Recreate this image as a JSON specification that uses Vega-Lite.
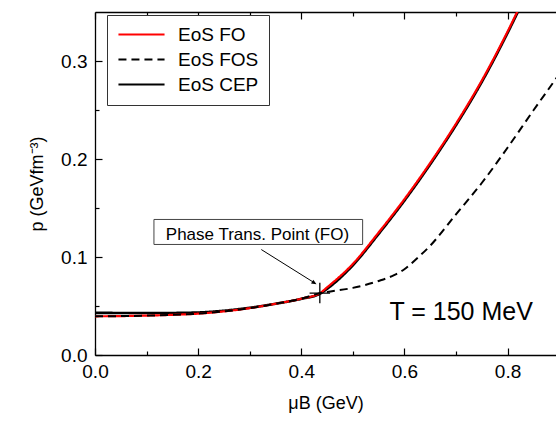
{
  "$schema": "https://vega.github.io/schema/vega-lite/v6.json",
  "width": 461,
  "height": 343,
  "autosize": {"type": "none"},
  "padding": {"left": 95, "top": 12, "right": 0, "bottom": 67},
  "background": "white",
  "config": {
    "view": {"stroke": null},
    "font": "Liberation Sans",
    "axis": {
      "grid": false,
      "domainColor": "black",
      "tickColor": "black",
      "labelColor": "black",
      "titleColor": "black",
      "labelFont": "Liberation Sans",
      "titleFont": "Liberation Sans",
      "titleFontWeight": "normal",
      "domainWidth": 1.3,
      "tickWidth": 1.2
    }
  },
  "datasets": {
    "curves": [
      {"series": "EoS CEP", "mu": 0.0, "p": 0.0430},
      {"series": "EoS CEP", "mu": 0.05, "p": 0.0429},
      {"series": "EoS CEP", "mu": 0.1, "p": 0.0428},
      {"series": "EoS CEP", "mu": 0.15, "p": 0.0429},
      {"series": "EoS CEP", "mu": 0.2, "p": 0.0434},
      {"series": "EoS CEP", "mu": 0.25, "p": 0.0452},
      {"series": "EoS CEP", "mu": 0.3, "p": 0.0482},
      {"series": "EoS CEP", "mu": 0.35, "p": 0.0523},
      {"series": "EoS CEP", "mu": 0.4, "p": 0.0573},
      {"series": "EoS CEP", "mu": 0.436, "p": 0.0625},
      {"series": "EoS CEP", "mu": 0.45, "p": 0.0675},
      {"series": "EoS CEP", "mu": 0.5, "p": 0.0915},
      {"series": "EoS CEP", "mu": 0.55, "p": 0.1235},
      {"series": "EoS CEP", "mu": 0.6, "p": 0.1575},
      {"series": "EoS CEP", "mu": 0.65, "p": 0.1945},
      {"series": "EoS CEP", "mu": 0.7, "p": 0.2345},
      {"series": "EoS CEP", "mu": 0.75, "p": 0.2785},
      {"series": "EoS CEP", "mu": 0.8, "p": 0.3285},
      {"series": "EoS CEP", "mu": 0.85, "p": 0.3835},
      {"series": "EoS FO", "mu": 0.0, "p": 0.0395},
      {"series": "EoS FO", "mu": 0.05, "p": 0.0397},
      {"series": "EoS FO", "mu": 0.1, "p": 0.0402},
      {"series": "EoS FO", "mu": 0.15, "p": 0.0410},
      {"series": "EoS FO", "mu": 0.2, "p": 0.0422},
      {"series": "EoS FO", "mu": 0.25, "p": 0.0445},
      {"series": "EoS FO", "mu": 0.3, "p": 0.0478},
      {"series": "EoS FO", "mu": 0.35, "p": 0.0523},
      {"series": "EoS FO", "mu": 0.4, "p": 0.0575},
      {"series": "EoS FO", "mu": 0.436, "p": 0.0630},
      {"series": "EoS FO", "mu": 0.45, "p": 0.0690},
      {"series": "EoS FO", "mu": 0.5, "p": 0.0930},
      {"series": "EoS FO", "mu": 0.55, "p": 0.1250},
      {"series": "EoS FO", "mu": 0.6, "p": 0.1590},
      {"series": "EoS FO", "mu": 0.65, "p": 0.1960},
      {"series": "EoS FO", "mu": 0.7, "p": 0.2360},
      {"series": "EoS FO", "mu": 0.75, "p": 0.2800},
      {"series": "EoS FO", "mu": 0.8, "p": 0.3300},
      {"series": "EoS FO", "mu": 0.85, "p": 0.3850},
      {"series": "EoS FOS", "mu": 0.0, "p": 0.0395},
      {"series": "EoS FOS", "mu": 0.05, "p": 0.0397},
      {"series": "EoS FOS", "mu": 0.1, "p": 0.0402},
      {"series": "EoS FOS", "mu": 0.15, "p": 0.0410},
      {"series": "EoS FOS", "mu": 0.2, "p": 0.0422},
      {"series": "EoS FOS", "mu": 0.25, "p": 0.0445},
      {"series": "EoS FOS", "mu": 0.3, "p": 0.0478},
      {"series": "EoS FOS", "mu": 0.35, "p": 0.0523},
      {"series": "EoS FOS", "mu": 0.4, "p": 0.0575},
      {"series": "EoS FOS", "mu": 0.436, "p": 0.0630},
      {"series": "EoS FOS", "mu": 0.45, "p": 0.0643},
      {"series": "EoS FOS", "mu": 0.5, "p": 0.0685},
      {"series": "EoS FOS", "mu": 0.55, "p": 0.0755},
      {"series": "EoS FOS", "mu": 0.58, "p": 0.0815},
      {"series": "EoS FOS", "mu": 0.6, "p": 0.0875},
      {"series": "EoS FOS", "mu": 0.62, "p": 0.0965},
      {"series": "EoS FOS", "mu": 0.65, "p": 0.1115},
      {"series": "EoS FOS", "mu": 0.7, "p": 0.1435},
      {"series": "EoS FOS", "mu": 0.75, "p": 0.1755},
      {"series": "EoS FOS", "mu": 0.8, "p": 0.2115},
      {"series": "EoS FOS", "mu": 0.85, "p": 0.2495},
      {"series": "EoS FOS", "mu": 0.9, "p": 0.2865},
      {"series": "EoS FOS", "mu": 0.95, "p": 0.3250}
    ]
  },
  "resolve": {"axis": {"x": "independent", "y": "independent"}},
  "layer": [
    {
      "data": {"name": "curves"},
      "transform": [{"filter": "datum.series === 'EoS CEP'"}],
      "mark": {"type": "line", "clip": true, "strokeWidth": 2.6, "interpolate": "monotone"},
      "encoding": {
        "x": {"field": "mu", "type": "quantitative", "scale": {"domain": [0, 0.894], "nice": false, "zero": false},
              "axis": {"orient": "bottom", "values": [0, 0.2, 0.4, 0.6, 0.8], "format": ".1f", "ticks": false, "labelFontSize": 19, "labelPadding": 7, "labelFlush": false, "title": "μB (GeV)", "titleFontSize": 18, "titlePadding": 13}},
        "y": {"field": "p", "type": "quantitative", "scale": {"domain": [0, 0.35], "nice": false, "zero": false},
              "axis": {"orient": "left", "values": [0, 0.1, 0.2, 0.3], "format": ".1f", "ticks": false, "labelFontSize": 19, "labelPadding": 8, "labelFlush": false, "title": "p (GeVfm⁻³)", "titleFontSize": 18, "titlePadding": 14}},
        "color": {"field": "series", "type": "nominal",
                  "scale": {"domain": ["EoS FO", "EoS FOS", "EoS CEP"], "range": ["#ff0000", "#000000", "#000000"]},
                  "legend": {"title": null, "orient": "none", "legendX": 12, "legendY": 3, "symbolType": "M-5,0L5,0", "symbolSize": 85, "symbolStrokeWidth": 2, "symbolOffset": 15, "labelOffset": 27, "labelFontSize": 19, "labelFont": "Liberation Sans", "labelColor": "black", "padding": 10, "rowPadding": 5, "strokeColor": "#333333", "fillColor": "white"}},
        "strokeDash": {"field": "series", "type": "nominal",
                       "scale": {"domain": ["EoS FO", "EoS FOS", "EoS CEP"], "range": [[1, 0], [8, 5], [1, 0]]},
                       "legend": {"title": null, "orient": "none", "legendX": 12, "legendY": 3, "symbolType": "M-5,0L5,0", "symbolSize": 85, "symbolStrokeWidth": 2, "symbolOffset": 15, "labelOffset": 27, "labelFontSize": 19, "labelFont": "Liberation Sans", "labelColor": "black", "padding": 10, "rowPadding": 5, "strokeColor": "#333333", "fillColor": "white"}}
      }
    },
    {
      "data": {"name": "curves"},
      "transform": [{"filter": "datum.series === 'EoS FO'"}],
      "mark": {"type": "line", "clip": true, "strokeWidth": 2.2, "interpolate": "monotone"},
      "encoding": {
        "x": {"field": "mu", "type": "quantitative",
              "axis": {"orient": "bottom", "values": [0, 0.2, 0.4, 0.6, 0.8], "labels": false, "domain": false, "tickSize": -7, "title": null}},
        "y": {"field": "p", "type": "quantitative",
              "axis": {"orient": "left", "values": [0, 0.1, 0.2, 0.3], "labels": false, "domain": false, "tickSize": -7, "title": null}},
        "color": {"field": "series", "type": "nominal"},
        "strokeDash": {"field": "series", "type": "nominal"}
      }
    },
    {
      "data": {"name": "curves"},
      "transform": [{"filter": "datum.series === 'EoS FOS'"}],
      "mark": {"type": "line", "clip": true, "strokeWidth": 2, "interpolate": "monotone"},
      "encoding": {
        "x": {"field": "mu", "type": "quantitative",
              "axis": {"orient": "bottom", "values": [0.1, 0.3, 0.5, 0.7], "labels": false, "domain": false, "tickSize": -4, "title": null}},
        "y": {"field": "p", "type": "quantitative",
              "axis": {"orient": "left", "values": [0.05, 0.15, 0.25], "labels": false, "domain": false, "tickSize": -4, "title": null}},
        "color": {"field": "series", "type": "nominal"},
        "strokeDash": {"field": "series", "type": "nominal"}
      }
    },
    {
      "data": {"values": [{"x1": 0.1143, "x2": 0.519, "y1": 0.1383, "y2": 0.1128}]},
      "mark": {"type": "rect", "fill": "white", "stroke": "#444444", "strokeWidth": 1},
      "encoding": {
        "x": {"field": "x1", "type": "quantitative",
              "axis": {"orient": "top", "values": [0, 0.2, 0.4, 0.6, 0.8], "labels": false, "domain": true, "tickSize": -7, "title": null}},
        "x2": {"field": "x2"},
        "y": {"field": "y1", "type": "quantitative", "axis": null},
        "y2": {"field": "y2"}
      }
    },
    {
      "data": {"values": [{"mu": 0.315, "p": 0.1171, "label": "Phase Trans. Point (FO)"}]},
      "mark": {"type": "text", "fontSize": 17, "align": "center", "baseline": "alphabetic", "color": "black"},
      "encoding": {
        "x": {"field": "mu", "type": "quantitative",
              "axis": {"orient": "top", "values": [0.1, 0.3, 0.5, 0.7], "labels": false, "domain": false, "tickSize": -4, "title": null}},
        "y": {"field": "p", "type": "quantitative", "axis": null},
        "text": {"field": "label"}
      }
    },
    {
      "data": {"values": [{"mu": 0.3225, "p": 0.1076, "mu2": 0.426, "p2": 0.0735}]},
      "mark": {"type": "rule", "color": "black", "strokeWidth": 1},
      "encoding": {
        "x": {"field": "mu", "type": "quantitative", "axis": null},
        "y": {"field": "p", "type": "quantitative", "axis": null},
        "x2": {"field": "mu2"},
        "y2": {"field": "p2"}
      }
    },
    {
      "data": {"values": [{"mu": 0.4295, "p": 0.0723}]},
      "mark": {"type": "point", "shape": "M0,0L-2,-0.9L-2,0.9Z", "filled": true, "color": "black", "size": 25, "angle": 31, "opacity": 1},
      "encoding": {
        "x": {"field": "mu", "type": "quantitative", "axis": null},
        "y": {"field": "p", "type": "quantitative", "axis": null}
      }
    },
    {
      "data": {"values": [{"mu": 0.436, "p": 0.0632}]},
      "mark": {"type": "point", "shape": "M-1,0L1,0M0,-1L0,1", "filled": false, "color": "black", "strokeWidth": 1.3, "size": 420, "opacity": 1},
      "encoding": {
        "x": {"field": "mu", "type": "quantitative", "axis": null},
        "y": {"field": "p", "type": "quantitative", "axis": null}
      }
    },
    {
      "data": {"values": [{"mu": 0.71, "p": 0.0362, "label": "T = 150 MeV"}]},
      "mark": {"type": "text", "fontSize": 25, "align": "center", "baseline": "alphabetic", "color": "black"},
      "encoding": {
        "x": {"field": "mu", "type": "quantitative", "axis": null},
        "y": {"field": "p", "type": "quantitative", "axis": null},
        "text": {"field": "label"}
      }
    }
  ]
}
